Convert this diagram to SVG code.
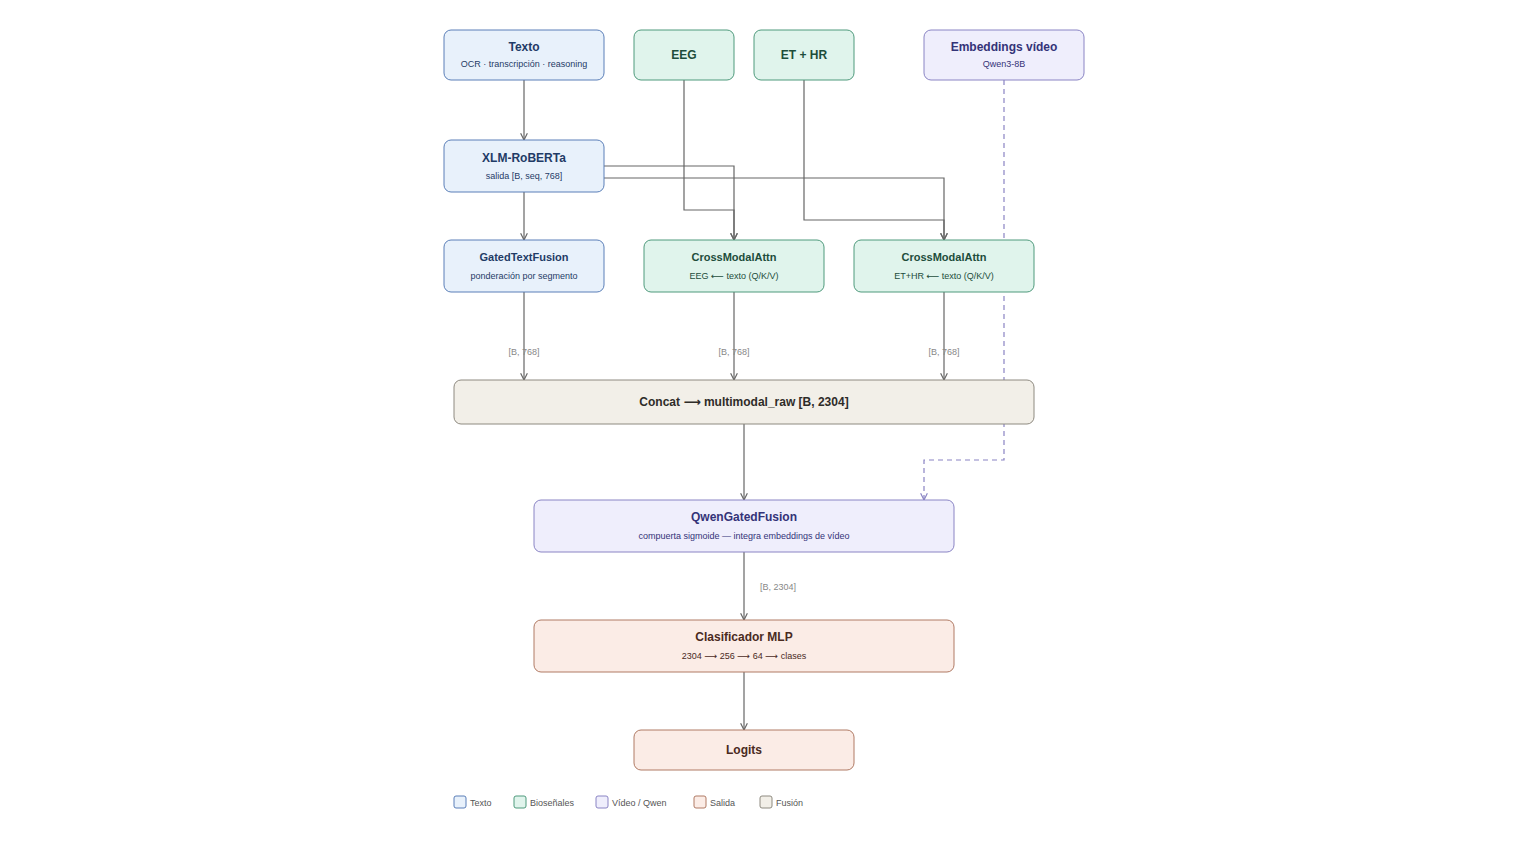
<svg xmlns="http://www.w3.org/2000/svg" width="1529" height="860" viewBox="0 0 1529 860">
<style>
text{font-family:"Liberation Sans",Arial,sans-serif;text-anchor:middle}
.ar{font-family:"DejaVu Sans",sans-serif}
.t{font-size:12px;font-weight:bold}
.s{font-size:9px}
.txt rect{fill:#e8f1fb;stroke:#5b7fb8}.txt text{fill:#1f3b66}
.bio rect{fill:#e0f4ec;stroke:#4f9a7c}.bio text{fill:#1d4d3b}
.vid rect{fill:#efeefc;stroke:#8a84c4}.vid text{fill:#343378}
.out rect{fill:#fbece6;stroke:#b07a64}.out text{fill:#4a2a1e}
.fus rect{fill:#f2efe8;stroke:#8e8a80}.fus text{fill:#2e2c28}
.c path{fill:none;stroke:#666;stroke-width:1.2}
.lbl{font-size:9px;fill:#888}
.lg text{font-size:9px;fill:#555;text-anchor:start}
</style>
<defs><marker id="a" viewBox="0 0 10 10" refX="9" refY="5" markerWidth="7" markerHeight="7" orient="auto"><path d="M1 1L9 5L1 9" fill="none" stroke="#666" stroke-width="1.4"/></marker>
<marker id="b" viewBox="0 0 10 10" refX="9" refY="5" markerWidth="7" markerHeight="7" orient="auto"><path d="M1 1L9 5L1 9" fill="none" stroke="#8a84c4" stroke-width="1.4"/></marker></defs>
<rect width="1529" height="860" fill="#fff"/>
<g class="c">
<path d="M524 80V140" marker-end="url(#a)"/>
<path d="M524 192V240" marker-end="url(#a)"/>
<path d="M604 166H734V240" marker-end="url(#a)"/>
<path d="M604 178H944V240" marker-end="url(#a)"/>
<path d="M684 80V210H734V240" marker-end="url(#a)"/>
<path d="M804 80V220H944V240" marker-end="url(#a)"/>
<path d="M1004 80V460H924V500" style="stroke:#8a84c4;stroke-dasharray:5 4" marker-end="url(#b)"/>
<path d="M524 292V380" marker-end="url(#a)"/>
<path d="M734 292V380" marker-end="url(#a)"/>
<path d="M944 292V380" marker-end="url(#a)"/>
<path d="M744 424V500" marker-end="url(#a)"/>
<path d="M744 552V620" marker-end="url(#a)"/>
<path d="M744 672V730" marker-end="url(#a)"/>
<text class="lbl" x="524" y="355">[B, 768]</text>
<text class="lbl" x="734" y="355">[B, 768]</text>
<text class="lbl" x="944" y="355">[B, 768]</text>
<text class="lbl" x="778" y="590">[B, 2304]</text>
</g>
<g id="texto" class="txt"><rect x="444" y="30" width="160" height="50" rx="7"/><text class="t" x="524" y="51">Texto</text><text class="s" x="524" y="67">OCR · transcripción · reasoning</text></g>
<g id="eeg" class="bio"><rect x="634" y="30" width="100" height="50" rx="7"/><text class="t" x="684" y="59">EEG</text></g>
<g id="ethr" class="bio"><rect x="754" y="30" width="100" height="50" rx="7"/><text class="t" x="804" y="59">ET + HR</text></g>
<g id="emb" class="vid"><rect x="924" y="30" width="160" height="50" rx="7"/><text class="t" x="1004" y="51">Embeddings vídeo</text><text class="s" x="1004" y="67">Qwen3-8B</text></g>
<g id="xlm" class="txt"><rect x="444" y="140" width="160" height="52" rx="7"/><text class="t" x="524" y="162">XLM-RoBERTa</text><text class="s" x="524" y="179">salida [B, seq, 768]</text></g>
<g id="gated" class="txt"><rect x="444" y="240" width="160" height="52" rx="7"/><text class="t" x="524" y="261" style="font-size:11px">GatedTextFusion</text><text class="s" x="524" y="279">ponderación por segmento</text></g>
<g id="cma1" class="bio"><rect x="644" y="240" width="180" height="52" rx="7"/><text class="t" x="734" y="261" style="font-size:11px">CrossModalAttn</text><text class="s" x="734" y="279">EEG <tspan class="ar">⟵</tspan> texto (Q/K/V)</text></g>
<g id="cma2" class="bio"><rect x="854" y="240" width="180" height="52" rx="7"/><text class="t" x="944" y="261" style="font-size:11px">CrossModalAttn</text><text class="s" x="944" y="279">ET+HR <tspan class="ar">⟵</tspan> texto (Q/K/V)</text></g>
<g id="concat" class="fus"><rect x="454" y="380" width="580" height="44" rx="7"/><text class="t" x="744" y="406">Concat <tspan class="ar">⟶</tspan> multimodal_raw [B, 2304]</text></g>
<g id="qwen" class="vid"><rect x="534" y="500" width="420" height="52" rx="7"/><text class="t" x="744" y="521">QwenGatedFusion</text><text class="s" x="744" y="539">compuerta sigmoide — integra embeddings de vídeo</text></g>
<g id="mlp" class="out"><rect x="534" y="620" width="420" height="52" rx="7"/><text class="t" x="744" y="641">Clasificador MLP</text><text class="s" x="744" y="659">2304 <tspan class="ar">⟶</tspan> 256 <tspan class="ar">⟶</tspan> 64 <tspan class="ar">⟶</tspan> clases</text></g>
<g id="logits" class="out"><rect x="634" y="730" width="220" height="40" rx="7"/><text class="t" x="744" y="754">Logits</text></g>
<g class="lg">
<g class="txt"><rect x="454" y="796" width="12" height="12" rx="2"/></g><text x="470" y="806">Texto</text>
<g class="bio"><rect x="514" y="796" width="12" height="12" rx="2"/></g><text x="530" y="806">Bioseñales</text>
<g class="vid"><rect x="596" y="796" width="12" height="12" rx="2"/></g><text x="612" y="806">Vídeo / Qwen</text>
<g class="out"><rect x="694" y="796" width="12" height="12" rx="2"/></g><text x="710" y="806">Salida</text>
<g class="fus"><rect x="760" y="796" width="12" height="12" rx="2"/></g><text x="776" y="806">Fusión</text>
</g>
</svg>
